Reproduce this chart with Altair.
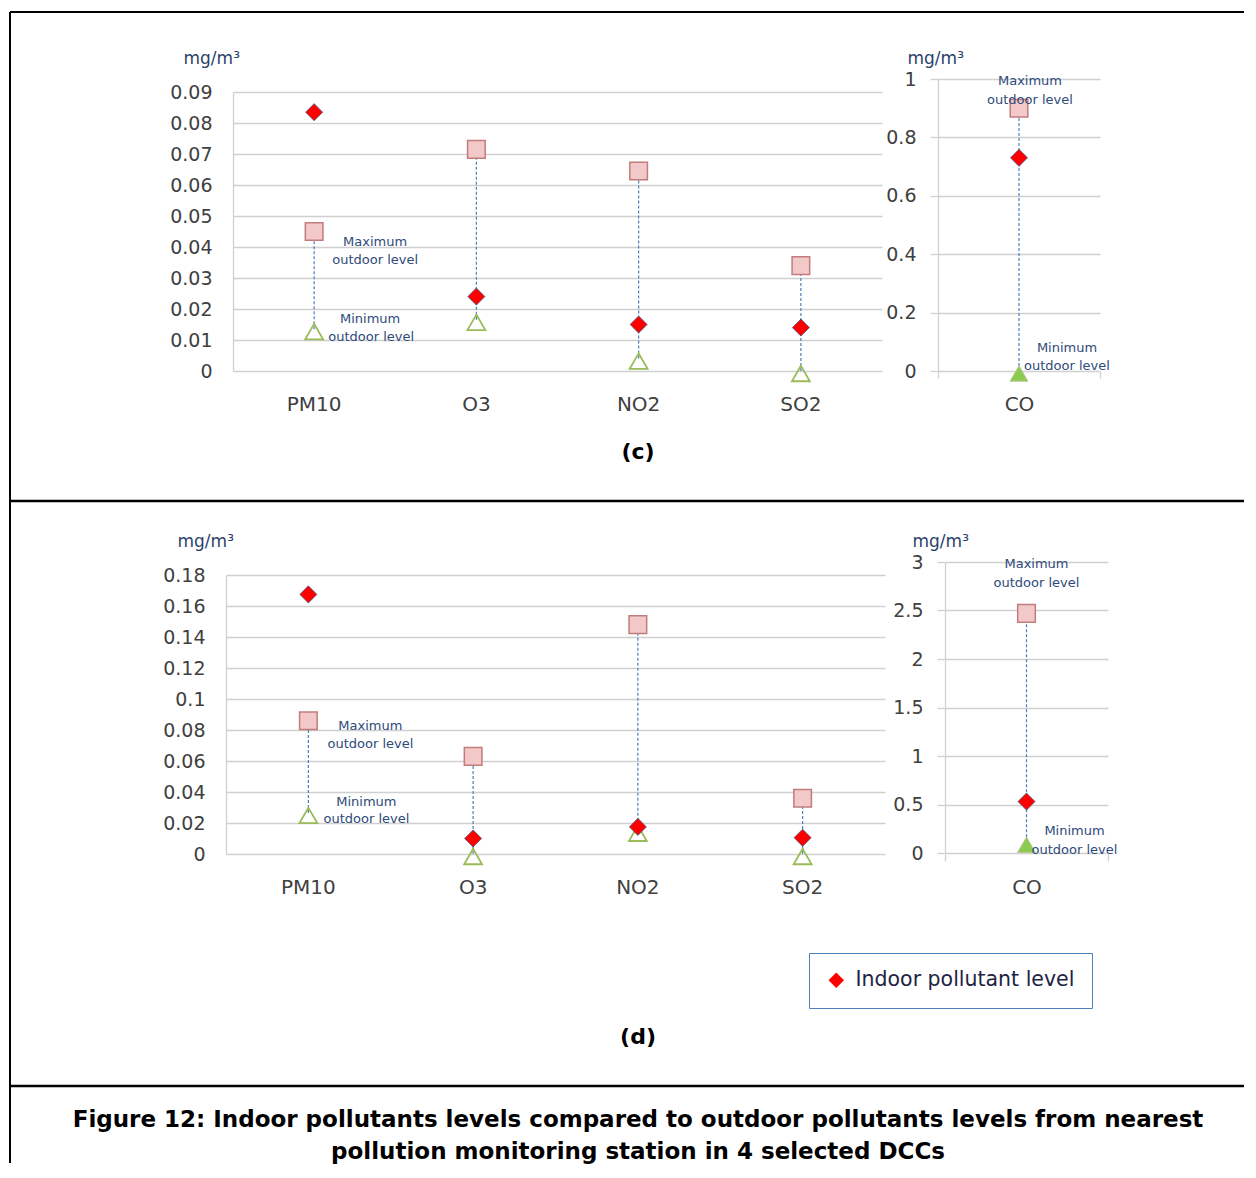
import altair as alt
import pandas as pd

# ---------------- data ----------------
categories = ["PM10", "O3", "NO2", "SO2"]
co_category = ["CO"]

c_indoor = [0.0835, 0.024, 0.015, 0.014]
c_max = [0.045, 0.0715, 0.0645, 0.034]
c_min = [0.0135, 0.0165, 0.004, 0.0]
c_co_indoor = [0.73]
c_co_max = [0.90]
c_co_min = [0.0]

d_indoor = [0.1675, 0.010, 0.0175, 0.0105]
d_max = [0.086, 0.063, 0.148, 0.036]
d_min = [0.0265, 0.0, 0.015, 0.0]
d_co_indoor = [0.53]
d_co_max = [2.47]
d_co_min = [0.11]

c_main_ticks = [0, 0.01, 0.02, 0.03, 0.04, 0.05, 0.06, 0.07, 0.08, 0.09]
d_main_ticks = [0, 0.02, 0.04, 0.06, 0.08, 0.1, 0.12, 0.14, 0.16, 0.18]
c_co_ticks = [0, 0.2, 0.4, 0.6, 0.8, 1]
d_co_ticks = [0, 0.5, 1, 1.5, 2, 2.5, 3]

unit = "mg/m³"
legend_label = "Indoor pollutant level"
max_label = ["Maximum", "outdoor  level"]
min_label = ["Minimum", "outdoor  level"]
panel_labels = ["(c)", "(d)"]
caption = [
    "Figure 12: Indoor pollutants levels compared to outdoor pollutants levels from nearest",
    "pollution monitoring station in 4 selected DCCs",
]

# ---------------- style ----------------
FONT = "DejaVu Sans"
GRID = "#D0D0D0"
LABEL = "#404040"
ANN = "#2E4A7A"
UNITC = "#2B3F6B"
H = 292


def build(cats, ind, mx, mn, ticks, width, xrange, yrange, axis_offset,
          title_x, title_y, co, annots, legend=None, extras=()):
    df = pd.DataFrame({"cat": cats, "ind": ind, "hi": mx, "lo": mn,
                       "series": [legend_label] * len(cats)})
    xs = alt.Scale(type="band", domain=cats, range=xrange,
                   paddingInner=0, paddingOuter=0)
    if co:
        xa = alt.Axis(title=None, labelAngle=0, labelFont=FONT, labelFontSize=20,
                      labelColor=LABEL, labelPadding=16, domain=False, grid=False,
                      ticks=True, tickBand="extent", tickSize=7, tickColor=GRID,
                      tickWidth=1.3)
    else:
        xa = alt.Axis(title=None, labelAngle=0, labelFont=FONT, labelFontSize=20,
                      labelColor=LABEL, labelPadding=23, domain=False, grid=False,
                      ticks=False)
    ya = alt.Axis(title=unit, titleAngle=0, titleAlign="left", titleBaseline="middle",
                  titleX=title_x, titleY=title_y, titleFont=FONT, titleFontSize=17,
                  titleFontWeight="normal", titleColor=UNITC,
                  values=ticks, format="~g", labelFont=FONT, labelFontSize=19,
                  labelColor=LABEL, labelPadding=14 if co else 21,
                  grid=True, gridColor=GRID, gridWidth=1.3,
                  domain=True, domainColor=GRID, domainWidth=1.3,
                  ticks=co, tickSize=8, tickColor=GRID, tickWidth=1.3,
                  offset=axis_offset)
    ys = alt.Scale(domain=[0, ticks[-1]], range=yrange, nice=False, zero=False)
    X = alt.X("cat:N", scale=xs, axis=xa)

    def Y(f):
        return alt.Y(f + ":Q", scale=ys, axis=ya)

    base = alt.Chart(df)
    rule = base.mark_rule(color="#4A7EBB", strokeWidth=1.2, strokeDash=[3, 2]).encode(
        x=X, y=Y("lo"), y2="hi")
    hi = base.mark_point(shape="square", filled=True, fill="#F2C8C8", stroke="#C27C7C",
                         strokeWidth=1.5, size=310, opacity=1).encode(x=X, y=Y("hi"))
    if co:
        lo = base.mark_point(shape="triangle-up", filled=True, fill="#8CCB4E",
                             stroke="#B9C79E", strokeWidth=1, size=320, opacity=1,
                             yOffset=2.5).encode(x=X, y=Y("lo"))
    else:
        lo = base.mark_point(shape="triangle-up", filled=False, stroke="#9BBB59",
                             strokeWidth=1.8, size=320, opacity=1,
                             yOffset=2.5).encode(x=X, y=Y("lo"))
    ind_mark = base.mark_point(shape="diamond", filled=True, fill="#FF0000",
                               stroke="#3D5A80", strokeWidth=0.8, size=290, opacity=1)
    if legend is not None:
        ind_l = ind_mark.encode(
            x=X, y=Y("ind"),
            shape=alt.Shape("series:N",
                            scale=alt.Scale(domain=[legend_label], range=["diamond"]),
                            legend=legend))
    else:
        ind_l = ind_mark.encode(x=X, y=Y("ind"))

    layers = [rule, hi, lo, ind_l]
    for (cat, val, txt, dx, dy) in annots:
        adf = pd.DataFrame({"cat": [cat], "v": [val], "t": [txt]})
        layers.append(
            alt.Chart(adf).mark_text(dx=dx, dy=dy, font=FONT, fontSize=13, color=ANN,
                                     align="center", baseline="middle").encode(
                x=X, y=Y("v"), text="t:N"))
    layers.extend(extras)
    return alt.layer(*layers).properties(width=width, height=H)


# ---------------- decorations (frame, panel labels, caption) ----------------
one = pd.DataFrame({"k": [0]})


def vline(x, y, y2, w):
    return alt.Chart(one).mark_rule(color="black", strokeWidth=w).encode(
        x=alt.value(x), y=alt.value(y), y2=alt.value(y2))


def hline(y, x, x2, w):
    return alt.Chart(one).mark_rule(color="black", strokeWidth=w).encode(
        y=alt.value(y), x=alt.value(x), x2=alt.value(x2))


def label(t, x, y, size):
    return alt.Chart(one).mark_text(text=t, font=FONT, fontSize=size, fontWeight="bold",
                                    color="black", align="center",
                                    baseline="middle").encode(
        x=alt.value(x), y=alt.value(y))


extras_c = [
    vline(-216, -67, 1084, 2),
    hline(-67, -216, 1018, 2),
    hline(422, -216, 1018, 2.5),
    hline(1007, -216, 1018, 2.5),
    label(panel_labels[0], 412, 373, 22),
    label(panel_labels[1], 412, 958, 22),
    label(caption[0], 412, 1041, 23),
    label(caption[1], 412, 1073, 23),
]

ann_c = [
    ("PM10", c_max[0], max_label[0], 61, 10),
    ("PM10", c_max[0], max_label[1], 61, 28),
    ("PM10", c_min[0], min_label[0], 56, -10),
    ("PM10", c_min[0], min_label[1], 57, 8),
]
ann_co_c = [
    ("CO", c_co_max[0], max_label[0], 11, -27),
    ("CO", c_co_max[0], max_label[1], 11, -8),
    ("CO", c_co_min[0], min_label[0], 48, -23),
    ("CO", c_co_min[0], min_label[1], 48, -5),
]
ann_d = [
    ("PM10", d_max[0], max_label[0], 62, 5),
    ("PM10", d_max[0], max_label[1], 62, 23),
    ("PM10", d_min[0], min_label[0], 58, -11),
    ("PM10", d_min[0], min_label[1], 58, 6),
]
ann_co_d = [
    ("CO", d_co_max[0], max_label[0], 10, -49),
    ("CO", d_co_max[0], max_label[1], 10, -30),
    ("CO", d_co_min[0], min_label[0], 48, -11),
    ("CO", d_co_min[0], min_label[1], 48, 8),
]

legend = alt.Legend(orient="none", legendX=583, legendY=874, title=None,
                    strokeColor="#4F81BD", fillColor="white", padding=17,
                    labelFont=FONT, labelFontSize=20.5, labelColor="#222244",
                    labelLimit=400, labelOffset=9, symbolType="diamond",
                    symbolSize=240, symbolFillColor="#FF0000", symbolStrokeWidth=0)

main_c = build(categories, c_indoor, c_max, c_min, c_main_ticks, 659, [7, 656],
               [H, 13], -7, -50, -21, False, ann_c, extras=extras_c)
co_c = build(co_category, c_co_indoor, c_co_max, c_co_min, c_co_ticks, 170, [0, 162],
             [H, 0], 0, -31, -21, True, ann_co_c)
main_d = build(categories, d_indoor, d_max, d_min, d_main_ticks, 659, [0, 659],
               [H, 13], 0, -49, -21, False, ann_d, legend=legend)
co_d = build(co_category, d_co_indoor, d_co_max, d_co_min, d_co_ticks, 170, [7, 170],
             [291, 0], -7, -33, -21, True, ann_co_d)

chart = alt.concat(
    main_c, co_c, main_d, co_d,
    columns=2, spacing={"row": 191, "column": 53}, bounds="flush", align="each",
).properties(
    padding={"left": 0, "top": 3, "right": 0, "bottom": 0}
).configure_view(strokeWidth=0)

chart.save("out.html", embed_options={"renderer": "svg", "actions": False})
